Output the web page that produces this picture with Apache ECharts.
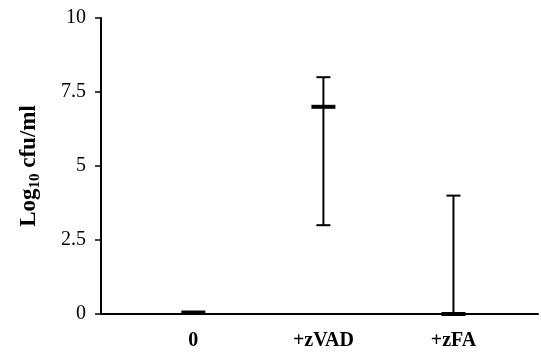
<!DOCTYPE html>
<html>
<head>
<meta charset="utf-8">
<script src="https://cdn.jsdelivr.net/npm/echarts@6/dist/echarts.min.js"></script>
<style>
  html, body { margin: 0; padding: 0; background: #fff; }
  #chart { width: 541px; height: 354px; }
</style>
</head>
<body>
<div id="chart"></div>
<script>
const categories = ['0', '+zVAD', '+zFA'];
const medians = [0.05, 7, 0];
const lows = [null, 3, 0];
const highs = [null, 8, 4];
const yTicks = [0, 2.5, 5, 7.5, 10];

const serif = 'Liberation Serif';
const seriesData = categories.map((c, i) => [i, medians[i], lows[i], highs[i]]);

const myChart = echarts.init(document.getElementById('chart'));

const option = {
    animation: false,
    backgroundColor: '#fff',
    grid: { left: 101, right: 0, top: 18, bottom: 40 },
    xAxis: {
        type: 'value',
        min: -0.71,
        max: 2.65,
        splitLine: { show: false },
        axisTick: { show: false },
        axisLine: { onZero: false, lineStyle: { color: '#000', width: 2 } },
        axisLabel: {
            margin: 17,
            color: '#000',
            fontFamily: serif,
            fontWeight: 'bold',
            fontSize: 20,
            formatter: (v) => (Number.isInteger(v) && categories[v] !== undefined ? categories[v] : ''),
        },
    },
    yAxis: {
        type: 'value',
        min: yTicks[0],
        max: yTicks[yTicks.length - 1],
        interval: 2.5,
        splitLine: { show: false },
        axisLine: { show: true, onZero: false, lineStyle: { color: '#000', width: 2 } },
        axisTick: { show: true, inside: false, length: 6, lineStyle: { color: '#000', width: 1.5 } },
        axisLabel: { margin: 15, color: '#000', fontFamily: serif, fontSize: 20 },
        name: '{m|Log}{s|10}{m| cfu/ml}',
        nameLocation: 'middle',
        nameRotate: 90,
        nameGap: 58,
        nameTextStyle: {
            rich: {
                m: { fontFamily: serif, fontWeight: 'bold', fontSize: 23, lineHeight: 28, color: '#000' },
                s: { fontFamily: serif, fontWeight: 'bold', fontSize: 15, lineHeight: 11, verticalAlign: 'bottom', color: '#000' },
            },
        },
    },
    series: [
        {
            type: 'custom',
            data: seriesData,
            clip: false,
            renderItem: (params, api) => {
                const x = api.value(0);
                const med = api.coord([x, api.value(1)]);
                const children = [];
                const lo = api.value(2);
                const hi = api.value(3);
                if (!isNaN(lo) && !isNaN(hi)) {
                    const pLo = api.coord([x, lo]);
                    const pHi = api.coord([x, hi]);
                    const stroke = { stroke: '#000', lineWidth: 2 };
                    children.push({ type: 'line', shape: { x1: pLo[0], y1: pLo[1], x2: pHi[0], y2: pHi[1] }, style: stroke });
                    children.push({ type: 'line', shape: { x1: pHi[0] - 7, y1: pHi[1], x2: pHi[0] + 7, y2: pHi[1] }, style: stroke });
                    children.push({ type: 'line', shape: { x1: pLo[0] - 7, y1: pLo[1], x2: pLo[0] + 7, y2: pLo[1] }, style: stroke });
                }
                children.push({
                    type: 'rect',
                    shape: { x: med[0] - 12, y: med[1] - 2, width: 24, height: 4 },
                    style: { fill: '#000' },
                });
                return { type: 'group', children };
            },
        },
    ],
};

myChart.setOption(option);
</script>
</body>
</html>
